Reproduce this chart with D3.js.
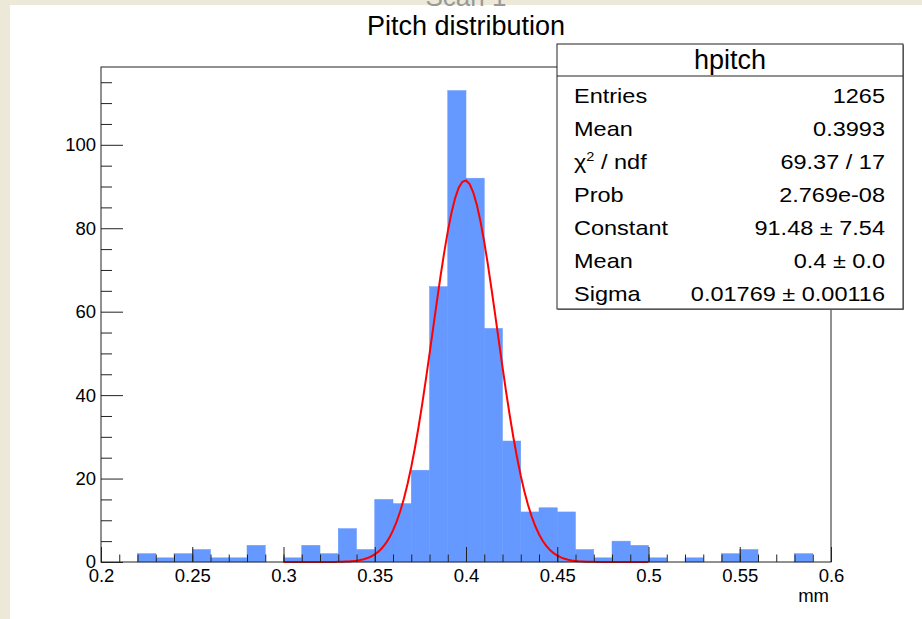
<!DOCTYPE html>
<html>
<head>
<meta charset="utf-8">
<script src="https://cdn.jsdelivr.net/npm/d3@7"></script>
<style>
  body { margin: 0; background: #ece9d8; }
  svg { display: block; font-family: "Liberation Sans", Arial, sans-serif; }
  .tick line { stroke: #222; }
  .tick text { fill: #000; font-size: 18.5px; }
</style>
</head>
<body>
<svg id="chart" width="922" height="619"></svg>
<script>
// histogram hpitch, bin width 0.01 mm
let binStarts = [0.20, 0.21, 0.22, 0.23, 0.24, 0.25, 0.26, 0.27, 0.28, 0.29,
                 0.30, 0.31, 0.32, 0.33, 0.34, 0.35, 0.36, 0.37, 0.38, 0.39,
                 0.40, 0.41, 0.42, 0.43, 0.44, 0.45, 0.46, 0.47, 0.48, 0.49,
                 0.50, 0.51, 0.52, 0.53, 0.54, 0.55, 0.56, 0.57, 0.58, 0.59];
let counts = [0, 0, 2, 1, 2, 3, 1, 1, 4, 0,
              1, 4, 2, 8, 3, 15, 14, 22, 66, 113,
              92, 56, 29, 12, 13, 12, 3, 1, 5, 4,
              1, 0, 1, 0, 2, 3, 0, 0, 2, 0];
let binWidth = 0.01;

// gaus fit parameters
let fitConstant = 91.48;
let fitMean = 0.3995;
let fitSigma = 0.01769;
let fitRange = [0.3, 0.5];

let xMajor = [0.2, 0.25, 0.3, 0.35, 0.4, 0.45, 0.5, 0.55, 0.6];
let xLabels = ['0.2', '0.25', '0.3', '0.35', '0.4', '0.45', '0.5', '0.55', '0.6'];
let yMajor = [0, 20, 40, 60, 80, 100];
let yMinorTicks = [5, 10, 15, 25, 30, 35, 45, 50, 55, 65, 70, 75, 85, 90, 95, 105, 110, 115];

let statNames = ['Entries', 'Mean', 'chi', 'Prob', 'Constant', 'Mean', 'Sigma'];
let statValues = ['1265', '0.3993', '69.37 / 17', '2.769e-08', '91.48 \u00b1 7.54', '0.4 \u00b1 0.0', '0.01769 \u00b1 0.00116'];

let frameL = 101, frameR = 831, frameT = 67, frameB = 562;

let svg = d3.select('#chart');

// white pad on the beige window
svg.append('rect').attr('x', 10).attr('y', 5).attr('width', 912).attr('height', 614).attr('fill', '#fff');

// canvas title, mostly scrolled off the top
svg.append('text')
  .attr('x', 466).attr('y', 6)
  .attr('text-anchor', 'middle')
  .attr('font-size', 26).attr('fill', '#999')
  .text('Scan 1');

let x = d3.scaleLinear().domain([0.2, 0.6]).range([frameL, frameR]);
let y = d3.scaleLinear().domain([0, 118.65]).range([frameB, frameT]);

// bars
svg.append('g').selectAll('rect')
  .data(binStarts.map((b, i) => ({ b: b, n: counts[i] })).filter(d => d.n > 0))
  .enter()
  .append('rect')
  .attr('x', d => x(d.b))
  .attr('width', d => x(d.b + binWidth) - x(d.b))
  .attr('y', d => y(d.n))
  .attr('height', d => y(0) - y(d.n))
  .attr('fill', '#6699ff')
  .attr('stroke', '#6699ff')
  .attr('stroke-width', 0.5);

// fit curve, 100 points like TF1
let fitPts = d3.range(101).map(i => {
  let xv = fitRange[0] + (fitRange[1] - fitRange[0]) * i / 100;
  let z = (xv - fitMean) / fitSigma;
  return [xv, fitConstant * Math.exp(-0.5 * z * z)];
});
svg.append('path')
  .attr('d', d3.line().x(d => x(d[0])).y(d => y(d[1]))(fitPts))
  .attr('fill', 'none')
  .attr('stroke', '#ff0000')
  .attr('stroke-width', 2);

// axes
svg.append('g').attr('transform', `translate(0,${frameB})`)
  .call(d3.axisBottom(x).tickValues(xMajor).tickSize(-15).tickPadding(7)
    .tickFormat((d, i) => xLabels[i]));
svg.append('g').attr('transform', `translate(0,${frameB})`)
  .call(d3.axisBottom(x).tickValues(binStarts.slice(1)).tickSize(-7.5).tickFormat(''));

svg.append('g').attr('transform', `translate(${frameL},0)`)
  .call(d3.axisLeft(y).tickValues(yMajor).tickSize(-22).tickPadding(5));
svg.append('g').attr('transform', `translate(${frameL},0)`)
  .call(d3.axisLeft(y).tickValues(yMinorTicks).tickSize(-11).tickFormat(''));

svg.selectAll('.domain').remove();

// frame
svg.append('rect')
  .attr('x', frameL).attr('y', frameT)
  .attr('width', frameR - frameL).attr('height', frameB - frameT)
  .attr('fill', 'none').attr('stroke', '#222').attr('stroke-width', 1);

svg.append('text')
  .attr('x', frameR - 2).attr('y', 602)
  .attr('text-anchor', 'end')
  .attr('font-size', 18.5)
  .text('mm');

// title
svg.append('text')
  .attr('x', 466).attr('y', 35)
  .attr('text-anchor', 'middle')
  .attr('font-size', 27)
  .text('Pitch distribution');

// stats box
let bx = 557, by = 44, bw = 346, bh = 265;
svg.append('rect').attr('x', bx + 1).attr('y', by + 1).attr('width', bw).attr('height', bh).attr('fill', '#888');
svg.append('rect').attr('x', bx).attr('y', by).attr('width', bw).attr('height', bh)
  .attr('fill', '#fff').attr('stroke', '#222').attr('stroke-width', 1);
svg.append('line').attr('x1', bx).attr('x2', bx + bw).attr('y1', 76).attr('y2', 76)
  .attr('stroke', '#222');
svg.append('text')
  .attr('x', bx + bw / 2).attr('y', 69)
  .attr('text-anchor', 'middle')
  .attr('font-size', 27)
  .text('hpitch');

let rowY = d3.scaleLinear().domain([0, 6]).range([95, 293]);
statNames.forEach((name, i) => {
  let t = svg.append('text')
    .attr('transform', `translate(${bx + 17},${rowY(i)}) scale(1.12,1)`)
    .attr('dy', '0.36em')
    .attr('font-size', 21);
  if (name === 'chi') {
    t.append('tspan').text('\u03c7');
    t.append('tspan').attr('font-size', 13).attr('dy', -8).text('2');
    t.append('tspan').attr('dy', 8).text(' / ndf');
  } else {
    t.text(name);
  }
  svg.append('text')
    .attr('transform', `translate(${bx + bw - 18},${rowY(i)}) scale(1.12,1)`)
    .attr('dy', '0.36em')
    .attr('text-anchor', 'end')
    .attr('font-size', 21)
    .text(statValues[i]);
});
</script>
</body>
</html>
